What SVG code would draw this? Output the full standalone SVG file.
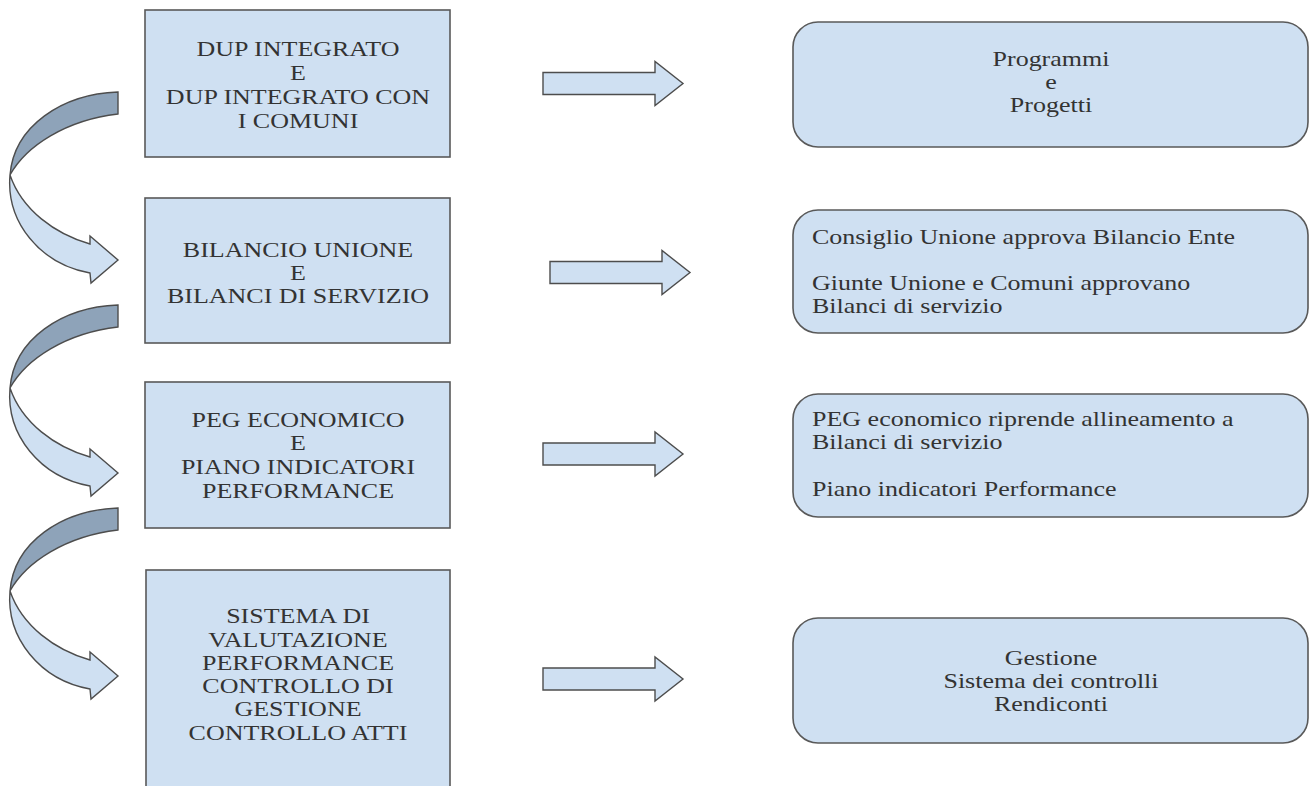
<svg xmlns="http://www.w3.org/2000/svg" width="1310" height="786" viewBox="0 0 1310 786">
<style>
.box{fill:#cfe0f2;stroke:#595959;stroke-width:1.6}
.arr{fill:#cfe0f2;stroke:#4d4d4d;stroke-width:1.4;stroke-linejoin:miter}
.dark{fill:#8ea3b9;stroke:#4d4d4d;stroke-width:1.4}
.t{font-family:"Liberation Serif","Times New Roman",serif;font-size:20px;fill:#333}
.c{text-anchor:middle}
</style>
<defs>
<path id="sarrow" class="arr" d="M0,-11 H112 V-22 L140,0 L112,22 V11 H0 Z"/>
<g id="carrow">
<path class="arr" d="M10,83 C6,130 40,172 90,181 L91,191 L118,168 L90,144 L90,152 C55,142 22,118 10,83 Z"/>
<path class="dark" d="M118,0 C62,2 14,34 10,83 C26,54 66,28 118,22 Z"/>
</g>
</defs>
<rect width="1310" height="786" fill="#ffffff"/>
<g id="connectors">
<use href="#carrow" transform="translate(0,92)"/>
<use href="#carrow" transform="translate(0,305)"/>
<use href="#carrow" transform="translate(0,508)"/>
<use href="#sarrow" transform="translate(543,83.5)"/>
<use href="#sarrow" transform="translate(550,272.5)"/>
<use href="#sarrow" transform="translate(543,454)"/>
<use href="#sarrow" transform="translate(543,679)"/>
</g>
<g id="box-dup">
<rect class="box" x="145" y="10" width="305" height="147"/>
<g transform="translate(298,0) scale(1.3,1)" class="t c">
<text x="0" y="56">DUP INTEGRATO</text>
<text x="0" y="80">E</text>
<text x="0" y="104">DUP INTEGRATO CON</text>
<text x="0" y="128">I COMUNI</text>
</g>
</g>
<g id="box-bilancio">
<rect class="box" x="145" y="198" width="305" height="145"/>
<g transform="translate(298,0) scale(1.3,1)" class="t c">
<text x="0" y="257">BILANCIO UNIONE</text>
<text x="0" y="280">E</text>
<text x="0" y="303">BILANCI DI SERVIZIO</text>
</g>
</g>
<g id="box-peg">
<rect class="box" x="145" y="382" width="305" height="146"/>
<g transform="translate(298,0) scale(1.3,1)" class="t c">
<text x="0" y="427">PEG ECONOMICO</text>
<text x="0" y="450">E</text>
<text x="0" y="474">PIANO INDICATORI</text>
<text x="0" y="498">PERFORMANCE</text>
</g>
</g>
<g id="box-sistema">
<rect class="box" x="146" y="570" width="304" height="240"/>
<g transform="translate(298,0) scale(1.3,1)" class="t c">
<text x="0" y="623">SISTEMA DI</text>
<text x="0" y="647">VALUTAZIONE</text>
<text x="0" y="670">PERFORMANCE</text>
<text x="0" y="693">CONTROLLO DI</text>
<text x="0" y="716">GESTIONE</text>
<text x="0" y="740">CONTROLLO ATTI</text>
</g>
</g>
<g id="box-programmi">
<rect class="box" x="793" y="22" width="515" height="125" rx="25" ry="25"/>
<g transform="translate(1051,0) scale(1.3,1)" class="t c">
<text x="0" y="66">Programmi</text>
<text x="0" y="89">e</text>
<text x="0" y="112">Progetti</text>
</g>
</g>
<g id="box-consiglio">
<rect class="box" x="793" y="210" width="515" height="123" rx="25" ry="25"/>
<g transform="translate(812,0) scale(1.3,1)" class="t">
<text x="0" y="244">Consiglio Unione approva Bilancio Ente</text>
<text x="0" y="290">Giunte Unione e Comuni approvano</text>
<text x="0" y="313">Bilanci di servizio</text>
</g>
</g>
<g id="box-pegeco">
<rect class="box" x="793" y="394" width="515" height="123" rx="25" ry="25"/>
<g transform="translate(812,0) scale(1.3,1)" class="t">
<text x="0" y="426">PEG economico riprende allineamento a</text>
<text x="0" y="449">Bilanci di servizio</text>
<text x="0" y="496">Piano indicatori Performance</text>
</g>
</g>
<g id="box-gestione">
<rect class="box" x="793" y="618" width="515" height="125" rx="25" ry="25"/>
<g transform="translate(1051,0) scale(1.3,1)" class="t c">
<text x="0" y="665">Gestione</text>
<text x="0" y="688">Sistema dei controlli</text>
<text x="0" y="711">Rendiconti</text>
</g>
</g>
</svg>
